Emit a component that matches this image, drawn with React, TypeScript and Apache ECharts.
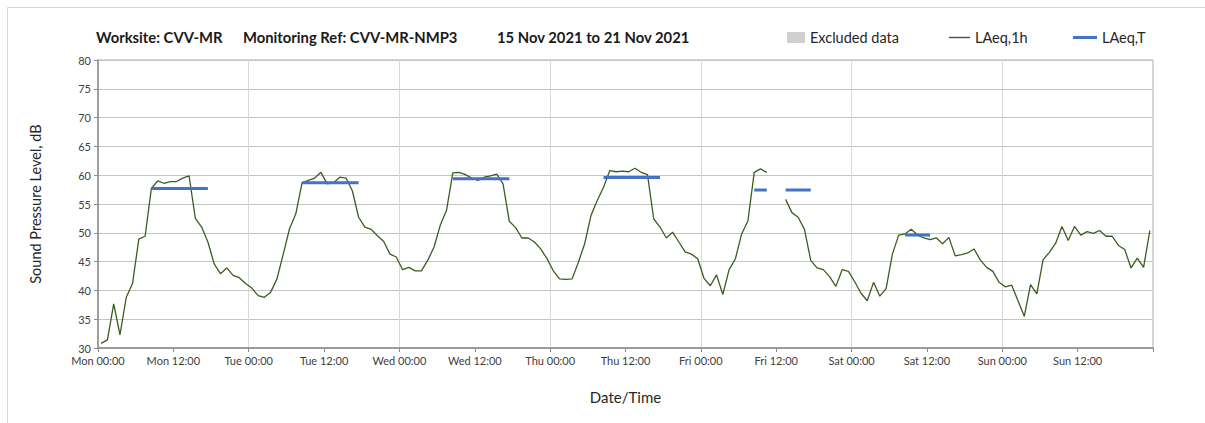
import React, { useEffect, useRef } from "react";
import * as echarts from "echarts";

const dayNames = ["Mon", "Tue", "Wed", "Thu", "Fri", "Sat", "Sun"];
const tickTimes = ["00:00", "12:00"];

// LAeq,1h hourly values (dB) per day, hour 0..23
const monLAeq1h = [30.8, 31.4, 37.65, 32.3, 38.8, 41.2, 48.9, 49.4, 57.7, 59.0, 58.6, 58.9, 58.9, 59.5, 59.9, 52.5, 51.0, 48.4, 44.6, 42.9, 43.9, 42.6, 42.2, 41.2];
const tueLAeq1h = [40.4, 39.1, 38.8, 39.7, 42.0, 46.3, 50.7, 53.3, 58.7, 59.1, 59.5, 60.5, 58.5, 58.7, 59.65, 59.5, 57.3, 52.7, 51.0, 50.6, 49.5, 48.5, 46.3, 45.8];
const wedLAeq1h = [43.6, 44.0, 43.4, 43.4, 45.2, 47.5, 51.3, 53.9, 60.4, 60.5, 60.1, 59.5, 59.1, 59.65, 59.9, 60.2, 58.5, 52.0, 50.9, 49.1, 49.1, 48.4, 47.2, 45.5];
const thuLAeq1h = [43.4, 42.0, 41.9, 42.0, 44.9, 48.1, 53.0, 55.6, 57.9, 60.8, 60.6, 60.7, 60.6, 61.2, 60.5, 60.1, 52.4, 51.0, 49.1, 50.1, 48.4, 46.7, 46.3, 45.5];
const friLAeq1h = [42.1, 40.8, 42.7, 39.3, 43.6, 45.5, 49.8, 52.1, 60.5, 61.1, 60.5, null, null, 55.8, 53.5, 52.7, 50.6, 45.2, 43.9, 43.6, 42.4, 40.7, 43.6, 43.3];
const satLAeq1h = [41.5, 39.5, 38.2, 41.4, 39.0, 40.3, 46.3, 49.6, 49.8, 50.6, 49.6, 49.1, 48.8, 49.1, 48.1, 49.2, 46.0, 46.2, 46.5, 47.2, 45.3, 44.0, 43.3, 41.4];
const sunLAeq1h = [40.6, 40.9, 38.2, 35.5, 41.0, 39.4, 45.35, 46.6, 48.2, 51.1, 48.65, 51.1, 49.6, 50.2, 49.9, 50.4, 49.4, 49.4, 47.8, 47.1, 43.9, 45.6, 44.0, 50.4];

// LAeq,T per day (dB) and the daytime period it covers
const laeqTValues = [57.7, 58.7, 59.4, 59.6, 57.45, 49.6, null];
const laeqTStartHour = [8, 8, 8, 8, 8, 8, null];
const laeqTEndHour = [17, 17, 17, 17, 17, 12, null];

const titleParts = ["Worksite: CVV-MR", "Monitoring Ref: CVV-MR-NMP3", "15 Nov 2021 to 21 Nov 2021"];

const FONT = "Lato, 'Open Sans', sans-serif";

export default function App() {
  const ref = useRef<HTMLDivElement>(null);

  useEffect(() => {
    if (!ref.current) return;
    const chart = echarts.init(ref.current, undefined, { renderer: "svg" });

    const hourly = [
      ...monLAeq1h, ...tueLAeq1h, ...wedLAeq1h, ...thuLAeq1h,
      ...friLAeq1h, ...satLAeq1h, ...sunLAeq1h,
    ];
    const greenData = hourly.map((v, i) => [i + 0.5, v]);

    const blueData: any[] = [];
    laeqTValues.forEach((val, d) => {
      const s = laeqTStartHour[d];
      const e = laeqTEndHour[d];
      if (val == null || s == null || e == null) return;
      for (let h = s; h <= e; h++) {
        const idx = d * 24 + h;
        blueData.push([idx + 0.5, hourly[idx] == null ? null : val]);
      }
      blueData.push([d * 24 + e + 1, null]);
    });

    const axisLabelColor = "#404040";
    const titleFont = `bold 14.8px ${FONT}`;

    chart.setOption({
      animation: false,
      backgroundColor: "#ffffff",
      graphic: [
        {
          type: "rect",
          shape: { x: 7.5, y: 7.5, width: 1400, height: 600 },
          style: { fill: "none", stroke: "#d9d9d9", lineWidth: 1 },
          silent: true,
        },
        {
          type: "text",
          x: 96,
          y: 37,
          style: { text: titleParts[0], font: titleFont, fill: "#1a1a1a", textVerticalAlign: "middle" },
        },
        {
          type: "text",
          x: 243,
          y: 37,
          style: { text: titleParts[1], font: titleFont, fill: "#1a1a1a", textVerticalAlign: "middle" },
        },
        {
          type: "text",
          x: 497,
          y: 37,
          style: { text: titleParts[2], font: titleFont, fill: "#1a1a1a", textVerticalAlign: "middle" },
        },
      ],
      legend: [
        {
          data: [{ name: "Excluded data", icon: "rect" }],
          left: 787,
          top: 30,
          padding: 0,
          itemWidth: 18,
          itemHeight: 11,
          textStyle: { fontFamily: FONT, fontSize: 14.5, color: "#262626" },
        },
        {
          data: [{ name: "LAeq,1h", icon: "rect" }],
          left: 949,
          top: 30,
          padding: 0,
          itemWidth: 21,
          itemHeight: 1.4,
          textStyle: { fontFamily: FONT, fontSize: 14.5, color: "#262626" },
        },
        {
          data: [{ name: "LAeq,T", icon: "rect" }],
          left: 1073,
          top: 30,
          padding: 0,
          itemWidth: 24,
          itemHeight: 3,
          textStyle: { fontFamily: FONT, fontSize: 14.5, color: "#262626" },
        },
      ],
      grid: {
        left: 98,
        top: 60,
        width: 1055,
        height: 288,
        show: true,
        borderColor: "#a6a6a6",
        borderWidth: 1,
        backgroundColor: "transparent",
      },
      xAxis: [
        {
          type: "value",
          min: 0,
          max: 168,
          interval: 12,
          position: "bottom",
          name: "Date/Time",
          nameLocation: "middle",
          nameGap: 41,
          nameTextStyle: { fontFamily: FONT, fontSize: 15, color: "#262626" },
          axisLine: { show: true, lineStyle: { color: "#8c8c8c", width: 1.5 } },
          axisTick: { show: true, length: 4, lineStyle: { color: "#8c8c8c" } },
          axisLabel: {
            fontFamily: FONT,
            fontSize: 11,
            color: axisLabelColor,
            margin: 7,
            showMaxLabel: true,
            formatter: (v: number) => {
              if (v >= 168) return "";
              const d = Math.floor(v / 24);
              const t = (v % 24) / 12;
              return `${dayNames[d]} ${tickTimes[t]}`;
            },
          },
          splitLine: { show: false },
        },
        {
          type: "value",
          min: 0,
          max: 168,
          interval: 24,
          position: "top",
          axisLine: { show: false },
          axisTick: { show: false },
          axisLabel: { show: false },
          splitLine: { show: true, lineStyle: { color: "#d9d9d9", width: 1 } },
        },
      ],
      yAxis: {
        type: "value",
        min: 30,
        max: 80,
        interval: 5,
        name: "Sound Pressure Level, dB",
        nameLocation: "middle",
        nameGap: 55,
        nameTextStyle: { fontFamily: FONT, fontSize: 14.5, color: "#262626" },
        axisLine: { show: true, lineStyle: { color: "#8c8c8c", width: 1.5 } },
        axisTick: { show: true, length: 4, lineStyle: { color: "#8c8c8c" } },
        axisLabel: { fontFamily: FONT, fontSize: 11, color: axisLabelColor, margin: 7 },
        splitLine: { show: true, lineStyle: { color: "#c4c4c4", width: 1 } },
      },
      series: [
        {
          name: "Excluded data",
          type: "bar",
          xAxisIndex: 0,
          data: [],
          itemStyle: { color: "#d0d0d0" },
        },
        {
          name: "LAeq,1h",
          type: "line",
          xAxisIndex: 0,
          data: greenData,
          showSymbol: false,
          symbol: "none",
          connectNulls: false,
          itemStyle: { color: "#3b5e1f" },
          lineStyle: { color: "#3b5e1f", width: 1.3 },
          z: 3,
        },
        {
          name: "LAeq,T",
          type: "line",
          xAxisIndex: 0,
          data: blueData,
          showSymbol: false,
          symbol: "none",
          connectNulls: false,
          itemStyle: { color: "#4472c4" },
          lineStyle: { color: "#4472c4", width: 3 },
          z: 4,
        },
      ],
    });

    return () => {
      chart.dispose();
    };
  }, []);

  return (
    <div
      ref={ref}
      style={{ position: "fixed", left: 0, top: 0, width: 1205, height: 423, background: "#ffffff" }}
    />
  );
}
